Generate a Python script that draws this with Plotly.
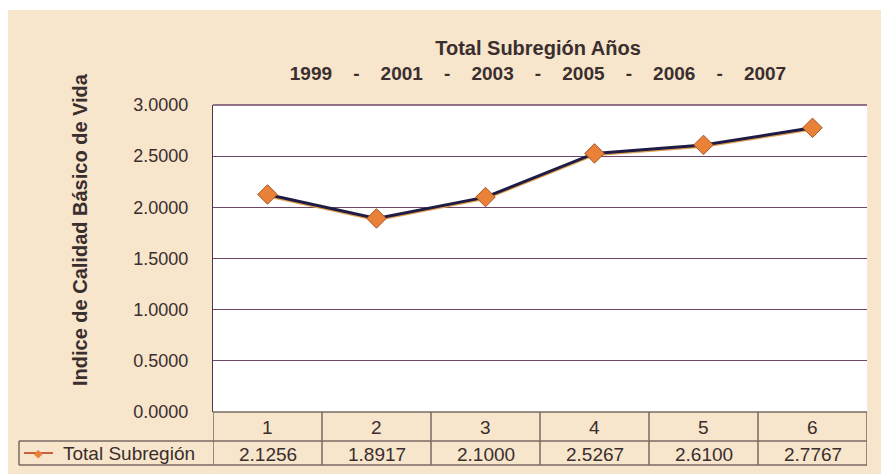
import plotly.graph_objects as go

# data
categorias = [1, 2, 3, 4, 5, 6]
etiquetas = ["1", "2", "3", "4", "5", "6"]
total_subregion = [2.1256, 1.8917, 2.1000, 2.5267, 2.6100, 2.7767]
serie = "Total Subregión"
anios = ["1999", "2001", "2003", "2005", "2006", "2007"]

OFF = 8                      # page body margin
W, H = 889 - OFF, 474 - OFF
L, R, T, B = 213, 867, 105, 412   # plot area in page px

FONT = "Liberation Sans"
TXT = "#3a2e2e"
GRID = "#6e4668"
TLINE = "#7a6a62"
BEIGE = "#f7e5cc"


def px(x):
    return (x - L) / (R - L)


def py(y):
    return (B - y) / (B - T)


def label(x, y, text, size, xref="paper", **kw):
    return dict(x=x, y=y, xref=xref, yref="paper", text=text, showarrow=False,
                xanchor=kw.pop("xanchor", "center"), yanchor="middle",
                font=dict(size=size, color=kw.pop("color", TXT)), **kw)


fig = go.Figure()

# shadow under the line
fig.add_trace(go.Scatter(
    x=categorias, y=[v - 0.012 for v in total_subregion],
    mode="lines", line=dict(color="#e0a050", width=3),
    hoverinfo="skip", showlegend=False,
))
fig.add_trace(go.Scatter(
    x=categorias, y=total_subregion,
    mode="lines+markers",
    line=dict(color="#1e1c44", width=3),
    marker=dict(symbol="diamond", size=15, color="#ea8138",
                line=dict(color="#a85524", width=1)),
    name=serie, showlegend=False,
))

sp = "\u00a0"
linea2 = (sp * 4 + "-" + sp * 4).join(anios)
fig.update_layout(
    width=W, height=H,
    margin=dict(l=L - OFF, r=W - (R - OFF), t=T - OFF, b=H - (B - OFF)),
    paper_bgcolor=BEIGE,
    plot_bgcolor="white",
    font=dict(family=FONT, color=TXT, size=18),
    title=dict(text=f"<span style='font-size:20px'><b>Total Subregión Años</b></span><br><b>{linea2}</b>",
               x=(538 - OFF) / W, xanchor="center", y=1 - (55 - OFF) / H, yanchor="middle",
               font=dict(size=19, color=TXT)),
    xaxis=dict(range=[0.5, 6.5], showticklabels=False, showgrid=False,
               zeroline=False, showline=False, fixedrange=True),
    yaxis=dict(range=[0, 3], dtick=0.5, tickformat=".4f",
               showgrid=True, gridcolor=GRID, gridwidth=1.4,
               zeroline=False, showline=True, linecolor="#4a3a44", linewidth=1.2,
               ticks="", ticklabelstandoff=20,
               tickfont=dict(size=18, color=TXT)),
)

shapes = []
# white strip at top of page
shapes.append(dict(type="rect", xref="paper", yref="paper", layer="below",
                   x0=px(0), x1=px(W + 20), y0=py(10), y1=py(0),
                   fillcolor="white", line=dict(width=0)))
# top border of plot
shapes.append(dict(type="line", xref="paper", yref="paper", x0=0, x1=1, y0=1, y1=1,
                   line=dict(color=GRID, width=1.4)))

# data table grid
row1_top, row1_bot, row2_bot = 412, 441, 465
for yy in (row1_top, row1_bot, row2_bot):
    x0 = L if yy == row1_top else 19
    shapes.append(dict(type="line", xref="paper", yref="paper",
                       x0=px(x0), x1=1, y0=py(yy), y1=py(yy),
                       line=dict(color=TLINE, width=1.5)))
for i in range(len(categorias) + 1):
    xx = categorias[0] - 0.5 + i
    shapes.append(dict(type="line", xref="x", yref="paper",
                       x0=xx, x1=xx, y0=py(row2_bot), y1=py(row1_top),
                       line=dict(color=TLINE, width=1.5)))
shapes.append(dict(type="line", xref="paper", yref="paper",
                   x0=px(19), x1=px(19), y0=py(row2_bot), y1=py(row1_bot),
                   line=dict(color=TLINE, width=1.5)))
# legend key
shapes.append(dict(type="line", xref="paper", yref="paper",
                   x0=px(24), x1=px(53), y0=py(453), y1=py(453),
                   line=dict(color="#c8603a", width=2)))

annotations = []
for c, lab, v in zip(categorias, etiquetas, total_subregion):
    annotations.append(label(c, py((row1_top + row1_bot) / 2 + 1), lab, 19, xref="x"))
    annotations.append(label(c, py((row1_bot + row2_bot) / 2 + 1), f"{v:.4f}", 19, xref="x"))
annotations.append(label(px(38.5), py(453), "◆", 11, color="#ea8138"))
annotations.append(label(px(61), py(453), serie, 19, xanchor="left"))
# y axis title
annotations.append(label(px(80), py(230), "<b>Indice de Calidad Básico de Vida</b>", 20,
                         textangle=-90))

fig.update_layout(shapes=shapes, annotations=annotations)

fig.write_html("out.html")
